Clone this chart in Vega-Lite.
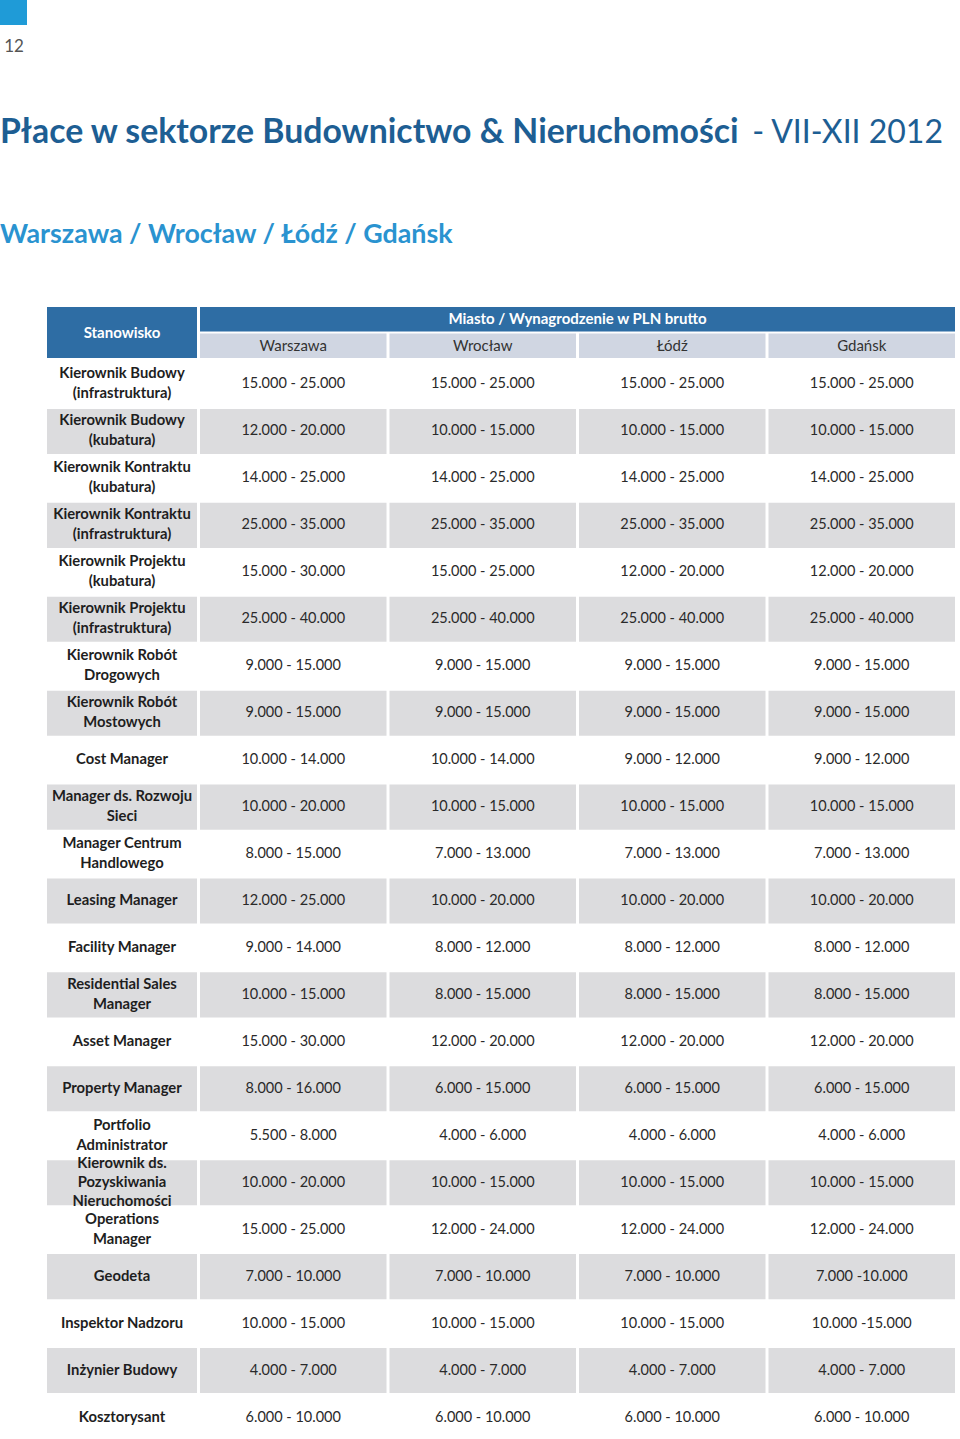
{
  "$schema": "https://vega.github.io/schema/vega-lite/v6.json",
  "padding": 0,
  "background": "white",
  "spacing": 0,
  "bounds": "flush",
  "config": {"view": {"stroke": null}, "font": "Lato", "text": {"font": "Lato"}},
  "datasets": {
    "heading": [
      {"role": "title", "part": "bold", "text": "Płace w sektorze Budownictwo & Nieruchomości"},
      {"role": "title", "part": "light", "text": "- VII-XII 2012"},
      {"role": "subtitle", "part": "bold", "text": "Warszawa / Wrocław / Łódź / Gdańsk"}
    ],
    "headers": [
      {"level": "top", "city": "all", "text": "Miasto / Wynagrodzenie w PLN brutto"},
      {"level": "sub", "city": "Warszawa", "text": "Warszawa"},
      {"level": "sub", "city": "Wrocław", "text": "Wrocław"},
      {"level": "sub", "city": "Łódź", "text": "Łódź"},
      {"level": "sub", "city": "Gdańsk", "text": "Gdańsk"}
    ],
    "table": [
      {"row": 1, "label": ["Kierownik Budowy", "(infrastruktura)"], "Warszawa": "15.000 - 25.000", "Wrocław": "15.000 - 25.000", "Łódź": "15.000 - 25.000", "Gdańsk": "15.000 - 25.000"},
      {"row": 2, "label": ["Kierownik Budowy", "(kubatura)"], "Warszawa": "12.000 - 20.000", "Wrocław": "10.000 - 15.000", "Łódź": "10.000 - 15.000", "Gdańsk": "10.000 - 15.000"},
      {"row": 3, "label": ["Kierownik Kontraktu", "(kubatura)"], "Warszawa": "14.000 - 25.000", "Wrocław": "14.000 - 25.000", "Łódź": "14.000 - 25.000", "Gdańsk": "14.000 - 25.000"},
      {"row": 4, "label": ["Kierownik Kontraktu", "(infrastruktura)"], "Warszawa": "25.000 - 35.000", "Wrocław": "25.000 - 35.000", "Łódź": "25.000 - 35.000", "Gdańsk": "25.000 - 35.000"},
      {"row": 5, "label": ["Kierownik Projektu", "(kubatura)"], "Warszawa": "15.000 - 30.000", "Wrocław": "15.000 - 25.000", "Łódź": "12.000 - 20.000", "Gdańsk": "12.000 - 20.000"},
      {"row": 6, "label": ["Kierownik Projektu", "(infrastruktura)"], "Warszawa": "25.000 - 40.000", "Wrocław": "25.000 - 40.000", "Łódź": "25.000 - 40.000", "Gdańsk": "25.000 - 40.000"},
      {"row": 7, "label": ["Kierownik Robót", "Drogowych"], "Warszawa": "9.000 - 15.000", "Wrocław": "9.000 - 15.000", "Łódź": "9.000 - 15.000", "Gdańsk": "9.000 - 15.000"},
      {"row": 8, "label": ["Kierownik Robót", "Mostowych"], "Warszawa": "9.000 - 15.000", "Wrocław": "9.000 - 15.000", "Łódź": "9.000 - 15.000", "Gdańsk": "9.000 - 15.000"},
      {"row": 9, "label": ["Cost Manager"], "Warszawa": "10.000 - 14.000", "Wrocław": "10.000 - 14.000", "Łódź": "9.000 - 12.000", "Gdańsk": "9.000 - 12.000"},
      {"row": 10, "label": ["Manager ds. Rozwoju", "Sieci"], "Warszawa": "10.000 - 20.000", "Wrocław": "10.000 - 15.000", "Łódź": "10.000 - 15.000", "Gdańsk": "10.000 - 15.000"},
      {"row": 11, "label": ["Manager Centrum", "Handlowego"], "Warszawa": "8.000 - 15.000", "Wrocław": "7.000 - 13.000", "Łódź": "7.000 - 13.000", "Gdańsk": "7.000 - 13.000"},
      {"row": 12, "label": ["Leasing Manager"], "Warszawa": "12.000 - 25.000", "Wrocław": "10.000 - 20.000", "Łódź": "10.000 - 20.000", "Gdańsk": "10.000 - 20.000"},
      {"row": 13, "label": ["Facility Manager"], "Warszawa": "9.000 - 14.000", "Wrocław": "8.000 - 12.000", "Łódź": "8.000 - 12.000", "Gdańsk": "8.000 - 12.000"},
      {"row": 14, "label": ["Residential Sales", "Manager"], "Warszawa": "10.000 - 15.000", "Wrocław": "8.000 - 15.000", "Łódź": "8.000 - 15.000", "Gdańsk": "8.000 - 15.000"},
      {"row": 15, "label": ["Asset Manager"], "Warszawa": "15.000 - 30.000", "Wrocław": "12.000 - 20.000", "Łódź": "12.000 - 20.000", "Gdańsk": "12.000 - 20.000"},
      {"row": 16, "label": ["Property Manager"], "Warszawa": "8.000 - 16.000", "Wrocław": "6.000 - 15.000", "Łódź": "6.000 - 15.000", "Gdańsk": "6.000 - 15.000"},
      {"row": 17, "label": ["Portfolio", "Administrator"], "Warszawa": "5.500 - 8.000", "Wrocław": "4.000 - 6.000", "Łódź": "4.000 - 6.000", "Gdańsk": "4.000 - 6.000"},
      {"row": 18, "label": ["Kierownik ds.", "Pozyskiwania", "Nieruchomości"], "Warszawa": "10.000 - 20.000", "Wrocław": "10.000 - 15.000", "Łódź": "10.000 - 15.000", "Gdańsk": "10.000 - 15.000"},
      {"row": 19, "label": ["Operations", "Manager"], "Warszawa": "15.000 - 25.000", "Wrocław": "12.000 - 24.000", "Łódź": "12.000 - 24.000", "Gdańsk": "12.000 - 24.000"},
      {"row": 20, "label": ["Geodeta"], "Warszawa": "7.000 - 10.000", "Wrocław": "7.000 - 10.000", "Łódź": "7.000 - 10.000", "Gdańsk": "7.000 -10.000"},
      {"row": 21, "label": ["Inspektor Nadzoru"], "Warszawa": "10.000 - 15.000", "Wrocław": "10.000 - 15.000", "Łódź": "10.000 - 15.000", "Gdańsk": "10.000 -15.000"},
      {"row": 22, "label": ["Inżynier Budowy"], "Warszawa": "4.000 - 7.000", "Wrocław": "4.000 - 7.000", "Łódź": "4.000 - 7.000", "Gdańsk": "4.000 - 7.000"},
      {"row": 23, "label": ["Kosztorysant"], "Warszawa": "6.000 - 10.000", "Wrocław": "6.000 - 10.000", "Łódź": "6.000 - 10.000", "Gdańsk": "6.000 - 10.000"}
    ]
  },
  "vconcat": [
    {
      "width": 27, "height": 25,
      "data": {"values": [{"item": "page marker"}]},
      "mark": {"type": "rect", "color": "#1f9bd7"},
      "encoding": {}
    },
    {
      "width": 28, "height": 43,
      "data": {"values": [{"label": "12"}]},
      "mark": {"type": "text", "fontSize": 17, "color": "#555555"},
      "encoding": {"text": {"field": "label"}}
    },
    {"width": 1, "height": 75, "data": {"values": []}, "mark": "text", "encoding": {}},
    {
      "width": 943, "height": 100,
      "data": {"name": "heading"},
      "encoding": {
        "x": {"field": "part", "type": "nominal", "scale": {"type": "point", "domain": ["bold", "light"], "padding": 0}, "axis": null},
        "y": {"field": "role", "type": "nominal", "scale": {"type": "point", "domain": ["title", "subtitle"], "padding": 0}, "axis": null},
        "text": {"field": "text"}
      },
      "layer": [
        {"transform": [{"filter": "datum.role == 'title' && datum.part == 'bold'"}],
         "mark": {"type": "text", "align": "left", "baseline": "alphabetic", "fontSize": 33.8, "fontWeight": "bold", "color": "#1d5e93"}},
        {"transform": [{"filter": "datum.part == 'light'"}],
         "mark": {"type": "text", "align": "right", "baseline": "alphabetic", "fontSize": 32, "fontWeight": "normal", "color": "#1d5e93"}},
        {"transform": [{"filter": "datum.role == 'subtitle'"}],
         "mark": {"type": "text", "align": "left", "baseline": "alphabetic", "fontSize": 26.8, "fontWeight": "bold", "color": "#2a93d0"}}
      ]
    },
    {"width": 1, "height": 64, "data": {"values": []}, "mark": "text", "encoding": {}},
    {
      "vconcat": [
        {
          "hconcat": [
            {"width": 44, "height": 51, "data": {"values": []}, "mark": "text", "encoding": {}},
            {
              "width": 150, "height": 51,
              "data": {"values": [{"text": "Stanowisko"}]},
              "layer": [
                {"mark": {"type": "rect", "color": "#2e6da4"}, "encoding": {}},
                {"mark": {"type": "text", "fontSize": 15, "fontWeight": "bold", "color": "white"}, "encoding": {"text": {"field": "text"}}}
              ]
            },
            {
              "width": 755, "height": 51,
              "data": {"name": "headers"},
              "encoding": {
                "y": {"field": "level", "type": "nominal", "scale": {"type": "band", "domain": ["top", "sub"], "paddingInner": 0.08, "paddingOuter": 0}, "axis": null},
                "text": {"field": "text"}
              },
              "layer": [
                {"transform": [{"filter": "datum.level == 'top'"}], "mark": {"type": "rect", "color": "#2e6da4"}},
                {"transform": [{"filter": "datum.level == 'top'"}], "mark": {"type": "text", "fontSize": 15, "fontWeight": "bold", "color": "white"}},
                {"transform": [{"filter": "datum.level == 'sub'"}], "mark": {"type": "rect", "color": "#d0d6e2"},
                 "encoding": {"x": {"field": "city", "type": "nominal", "scale": {"type": "band", "domain": ["Warszawa", "Wrocław", "Łódź", "Gdańsk"], "paddingInner": 0.0158, "paddingOuter": 0}, "axis": null}}},
                {"transform": [{"filter": "datum.level == 'sub'"}], "mark": {"type": "text", "fontSize": 15, "color": "#333333"},
                 "encoding": {"x": {"field": "city", "type": "nominal", "axis": null}}}
              ]
            }
          ],
          "spacing": 3
        },
        {
          "hconcat": [
            {"width": 44, "height": 1080, "data": {"values": []}, "mark": "text", "encoding": {}},
            {
              "width": 150, "height": 1080,
              "data": {"name": "table"},
              "encoding": {
                "y": {"field": "row", "type": "ordinal", "scale": {"type": "band", "paddingInner": 0.04, "paddingOuter": 0.02}, "axis": null},
                "text": {"field": "label"}
              },
              "layer": [
                {"transform": [{"filter": "datum.row % 2 == 0"}], "mark": {"type": "rect", "color": "#dcdcde"}},
                {"transform": [{"filter": "length(datum.label) == 1"}],
                 "mark": {"type": "text", "fontSize": 14.8, "fontWeight": "bold", "lineHeight": 20, "color": "#1e1e1e"}},
                {"transform": [{"filter": "length(datum.label) == 2"}],
                 "mark": {"type": "text", "fontSize": 14.8, "fontWeight": "bold", "lineHeight": 20, "dy": -10, "color": "#1e1e1e"}},
                {"transform": [{"filter": "length(datum.label) == 3"}],
                 "mark": {"type": "text", "fontSize": 14.8, "fontWeight": "bold", "lineHeight": 19, "dy": -19, "color": "#1e1e1e"}}
              ]
            },
            {
              "width": 755, "height": 1080,
              "data": {"name": "table"},
              "transform": [{"fold": ["Warszawa", "Wrocław", "Łódź", "Gdańsk"], "as": ["city", "range"]}],
              "encoding": {
                "y": {"field": "row", "type": "ordinal", "scale": {"type": "band", "paddingInner": 0.04, "paddingOuter": 0.02}, "axis": null},
                "x": {"field": "city", "type": "nominal", "scale": {"type": "band", "domain": ["Warszawa", "Wrocław", "Łódź", "Gdańsk"], "paddingInner": 0.0158, "paddingOuter": 0}, "axis": null}
              },
              "layer": [
                {"transform": [{"filter": "datum.row % 2 == 0"}], "mark": {"type": "rect", "color": "#dcdcde"}},
                {"mark": {"type": "text", "fontSize": 14.5, "color": "#2a2a2a"}, "encoding": {"text": {"field": "range"}}}
              ]
            }
          ],
          "spacing": 3
        }
      ],
      "spacing": 3
    }
  ]
}
